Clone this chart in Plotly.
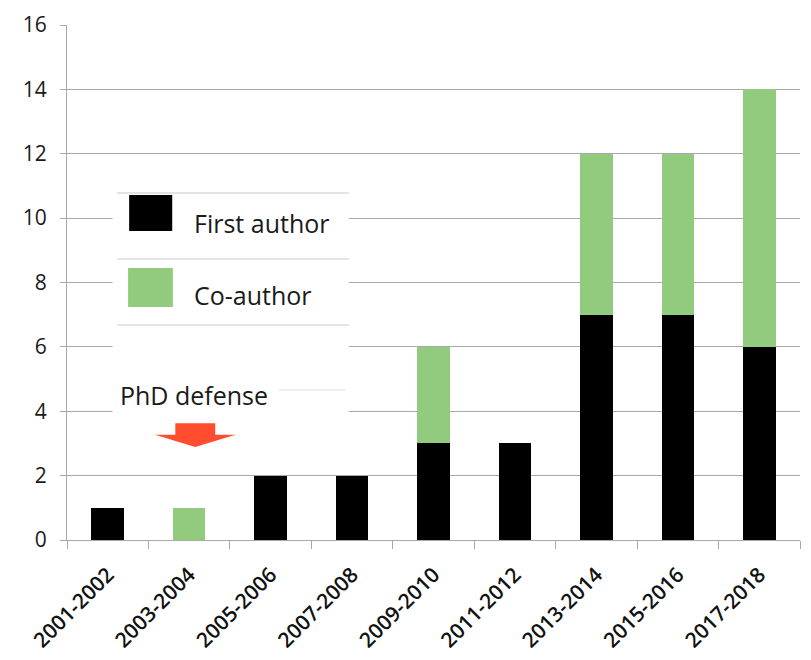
import plotly.graph_objects as go

categories = ["2001-2002", "2003-2004", "2005-2006", "2007-2008", "2009-2010",
              "2011-2012", "2013-2014", "2015-2016", "2017-2018"]
first_author = [1, 0, 2, 2, 3, 3, 7, 7, 6]
co_author = [0, 1, 0, 0, 3, 0, 5, 5, 8]
series_names = ["First author", "Co-author"]
annotation_text = "PhD defense"

BLACK = "#000000"
GREEN = "#93cb7e"
GRID = "#a8a8a8"
ARROW = "#ff4d2e"
FONT = "Open Sans"

fig = go.Figure()
fig.add_trace(go.Bar(x=categories, y=first_author, name=series_names[0],
                     marker=dict(color=BLACK, line=dict(width=0)), width=0.4))
fig.add_trace(go.Bar(x=categories, y=co_author, name=series_names[1],
                     marker=dict(color=GREEN, line=dict(width=0)), width=0.4))

shapes = []
# white background box for the legend / label region
shapes.append(dict(type="rect", xref="x", yref="y", x0=0.06, x1=2.96, y0=3.73, y1=11.18,
                   fillcolor="white", line=dict(width=0), layer="between"))
# legend box rules
for yy in [10.78, 8.73, 6.68]:
    shapes.append(dict(type="line", xref="x", yref="y", x0=0.115, x1=2.96, y0=yy, y1=yy,
                       line=dict(color="#c8c8c8", width=1.2), layer="between"))
shapes.append(dict(type="line", xref="x", yref="y", x0=2.1, x1=2.92, y0=4.66, y1=4.66,
                   line=dict(color="#e2e2e2", width=1.2), layer="between"))
# legend swatches
shapes.append(dict(type="rect", xref="x", yref="y", x0=0.263, x1=0.792, y0=9.60, y1=10.72,
                   fillcolor=BLACK, line=dict(width=0), layer="between"))
shapes.append(dict(type="rect", xref="x", yref="y", x0=0.25, x1=0.80, y0=7.24, y1=8.45,
                   fillcolor=GREEN, line=dict(width=0), layer="between"))
# red arrow
shapes.append(dict(type="rect", xref="x", yref="y", x0=0.83, x1=1.32, y0=3.26, y1=3.63,
                   fillcolor=ARROW, line=dict(width=0), layer="between"))
shapes.append(dict(type="path", xref="x", yref="y",
                   path="M 0.58 3.27 L 1.57 3.27 L 1.075 2.89 Z",
                   fillcolor=ARROW, line=dict(width=0), layer="between"))

annotations = [
    dict(x=1.04, y=9.85, xref="x", yref="y", text=series_names[0], showarrow=False,
         xanchor="left", yanchor="middle", font=dict(family=FONT, size=25, color="#1a1a1a")),
    dict(x=1.04, y=7.62, xref="x", yref="y", text=series_names[1], showarrow=False,
         xanchor="left", yanchor="middle", font=dict(family=FONT, size=25, color="#1a1a1a")),
    dict(x=0.12, y=4.5, xref="x", yref="y", text=annotation_text, showarrow=False,
         xanchor="left", yanchor="middle", font=dict(family=FONT, size=25, color="#1a1a1a")),
]

fig.update_layout(
    barmode="stack",
    width=803, height=652,
    margin=dict(l=59, r=11, t=17, b=120),
    paper_bgcolor="white", plot_bgcolor="white",
    showlegend=False,
    shapes=shapes,
    annotations=annotations,
    font=dict(family=FONT, color="#1a1a1a"),
)
fig.update_xaxes(
    type="category",
    showline=True, linecolor=GRID, linewidth=1.2,
    ticks="outside", tickson="boundaries", ticklen=8, tickcolor=GRID,
    tickangle=-45, tickfont=dict(family=FONT, size=21, color="#111111", weight=600),
    ticklabelstandoff=13,
    showgrid=False,
    automargin=False,
)
fig.update_yaxes(
    range=[0, 16], dtick=2, tick0=0,
    showline=True, linecolor=GRID, linewidth=1.2,
    showgrid=True, gridcolor=GRID, gridwidth=1.2,
    zeroline=False,
    ticks="outside", ticklen=6, tickcolor=GRID,
    tickfont=dict(family=FONT, size=21, color="#1a1a1a"),
    ticklabelstandoff=9,
    automargin=False,
)

fig.write_html("out.html")
